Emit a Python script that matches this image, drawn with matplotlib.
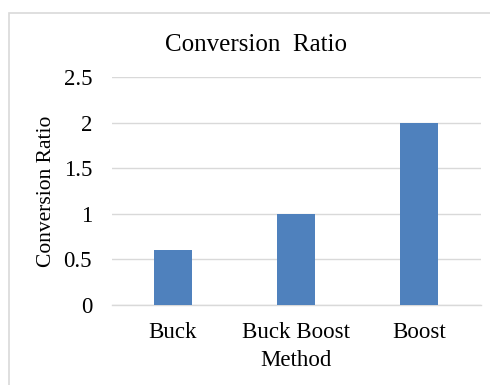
import matplotlib
matplotlib.use("Agg")
import matplotlib.pyplot as plt
from matplotlib.patches import Rectangle

categories = ["Buck", "Buck Boost", "Boost"]
values = [0.6, 1.0, 2.0]
yticks = [0, 0.5, 1, 1.5, 2, 2.5]
ytick_labels = ["0", "0.5", "1", "1.5", "2", "2.5"]

plt.rcParams['font.family'] = ['Liberation Serif', 'DejaVu Serif']

W, H = 490, 385
fig = plt.figure(figsize=(W/100, H/100), dpi=100)
ax = fig.add_axes([111.5/W, (H-305)/H, 369/W, 228/H])

x = list(range(len(categories)))
ax.bar(x, values, width=0.31, color="#4F81BD", zorder=3)
ax.set_xlim(-0.5, len(categories)-0.5)
ax.set_ylim(0, 2.5)
ax.set_yticks(yticks)
ax.set_yticklabels(ytick_labels)
ax.set_xticks(x)
ax.set_xticklabels(categories)
ax.tick_params(axis='both', length=0, labelsize=16.5, colors="#000000")
ax.tick_params(axis='y', pad=14)
ax.tick_params(axis='x', pad=12)
ax.grid(axis='y', color="#D9D9D9", linewidth=1, zorder=0)
for s in ["top", "right", "left"]:
    ax.spines[s].set_visible(False)
ax.spines["bottom"].set_color("#D9D9D9")
ax.spines["bottom"].set_linewidth(1)

ax.set_xlabel("Method", fontsize=16.5, labelpad=5)
ax.set_ylabel("Conversion Ratio", fontsize=15.5)
ax.yaxis.set_label_coords((56-111.5)/369, 0.5)

fig.text(256/W, 1-45/H, "Conversion  Ratio", ha="center", va="center", fontsize=18)

fig.patches.append(Rectangle((9/W, -0.1), 1.2, 1 - 13/H + 0.1, transform=fig.transFigure,
                             fill=False, edgecolor="#D9D9D9", linewidth=1.2))

fig.savefig("out.png", dpi=100)
